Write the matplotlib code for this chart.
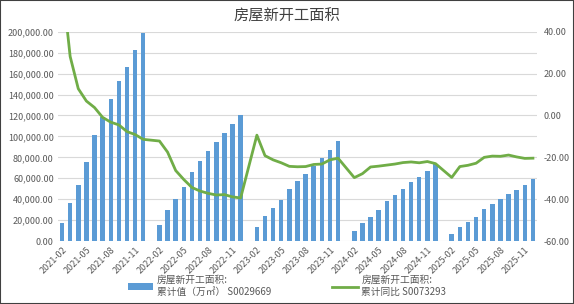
import matplotlib
matplotlib.use("Agg")
import matplotlib.pyplot as plt
import numpy as np
from matplotlib.patches import Rectangle
from matplotlib.ticker import FuncFormatter, MultipleLocator

plt.rcParams["font.family"] = ["Noto Sans CJK SC", "DejaVu Sans"]

# monthly categories 2021-02 .. 2025-12, January has no release (Jan-Feb combined)
months = [f"{y}-{m:02d}" for y in range(2021, 2026) for m in range(1, 13)][1:]

# 房屋新开工面积 累计值 (万㎡), None = January
cum_2021 = [17014, 36163, 53347, 75107, 101241, 118784, 135501, 152944, 166736, 182820, 198895]
cum_2022 = [None, 15115, 29638, 39739, 51628, 66423, 76091, 85751, 94767, 103722, 111632, 120587]
cum_2023 = [None, 13568, 24121, 31949, 39723, 49880, 56969, 63891, 72123, 79177, 87456, 95376]
cum_2024 = [None, 9429, 17026, 22804, 30090, 38023, 43731, 49731, 56051, 61227, 67370, 73893]
cum_2025 = [None, 6428, 12996, 17836, 23184, 30364, 35206, 39801, 45399, 49061, 53457, 59000]

# 房屋新开工面积 累计同比 (%)
yoy_2021 = [64.3, 28.2, 12.8, 6.9, 3.8, -0.9, -3.2, -4.5, -7.7, -9.1, -11.4]
yoy_2022 = [None, -12.2, -17.5, -26.3, -30.6, -34.4, -36.1, -37.2, -38.0, -37.8, -38.9, -39.4]
yoy_2023 = [None, -9.4, -19.2, -21.2, -22.6, -24.3, -24.5, -24.4, -23.4, -23.2, -21.2, -20.4]
yoy_2024 = [None, -29.7, -27.8, -24.6, -24.2, -23.7, -23.2, -22.5, -22.2, -22.6, -22.0, -23.0]
yoy_2025 = [None, -29.6, -24.4, -23.8, -22.8, -20.0, -19.4, -19.5, -18.9, -19.8, -20.5, -20.4]

title = "房屋新开工面积"
bar_label = "房屋新开工面积:\n累计值（万㎡） S0029669"
line_label = "房屋新开工面积:\n累计同比 S0073293"

GRAY = "#595959"


def to_array(*parts):
    vals = [v for p in parts for v in p]
    return np.array([np.nan if v is None else v for v in vals], dtype=float)


cum = to_array(cum_2021, cum_2022, cum_2023, cum_2024, cum_2025)
yoy = to_array(yoy_2021, yoy_2022, yoy_2023, yoy_2024, yoy_2025)
x = np.arange(len(months))

fig = plt.figure(figsize=(5.74, 3.04), dpi=100)
ax = fig.add_axes([0.101, 0.207, 0.8345, 0.6885])

bars = ax.bar(x, cum, width=0.55, color="#5B9BD5", label=bar_label, zorder=2)
ax.set_xlim(-0.5, len(months) - 0.5)
ax.set_ylim(0, 200000)
ax.yaxis.set_major_locator(MultipleLocator(20000))
ax.yaxis.set_major_formatter(FuncFormatter(lambda v, _: f"{v:,.2f}"))
ax.grid(axis="y", color="#D9D9D9", lw=0.8, zorder=0)
ax.set_axisbelow(True)
ax.set_xticks(x[::3])
ax.set_xticklabels(months[::3], rotation=45, ha="right", rotation_mode="anchor")
ax.tick_params(length=0, labelsize=6.5, colors=GRAY, pad=3)

ax2 = ax.twinx()
ok = ~np.isnan(yoy)
line, = ax2.plot(x[ok], yoy[ok], color="#70AD47", lw=2, label=line_label, zorder=3)
ax2.set_ylim(-60, 40)
ax2.yaxis.set_major_locator(MultipleLocator(20))
ax2.yaxis.set_major_formatter(FuncFormatter(lambda v, _: f"{v:.2f}"))
ax2.tick_params(length=0, labelsize=6.5, colors=GRAY, pad=5)

for a in (ax, ax2):
    for s in a.spines.values():
        s.set_visible(False)

fig.text(0.5, 0.948, title, ha="center", va="center", fontsize=11, color="#404040")

fig.legend([bars, line], [bar_label, line_label], loc="lower center",
           bbox_to_anchor=(0.5, -0.005), ncol=2, frameon=False, fontsize=7,
           handlelength=2.6, handletextpad=0.4, columnspacing=6.3, labelcolor=GRAY)

fig.patches.append(Rectangle((0, 0), 1, 1, transform=fig.transFigure, fill=False,
                             edgecolor="#404040", lw=1.5))

fig.savefig("out.png", dpi=100)
